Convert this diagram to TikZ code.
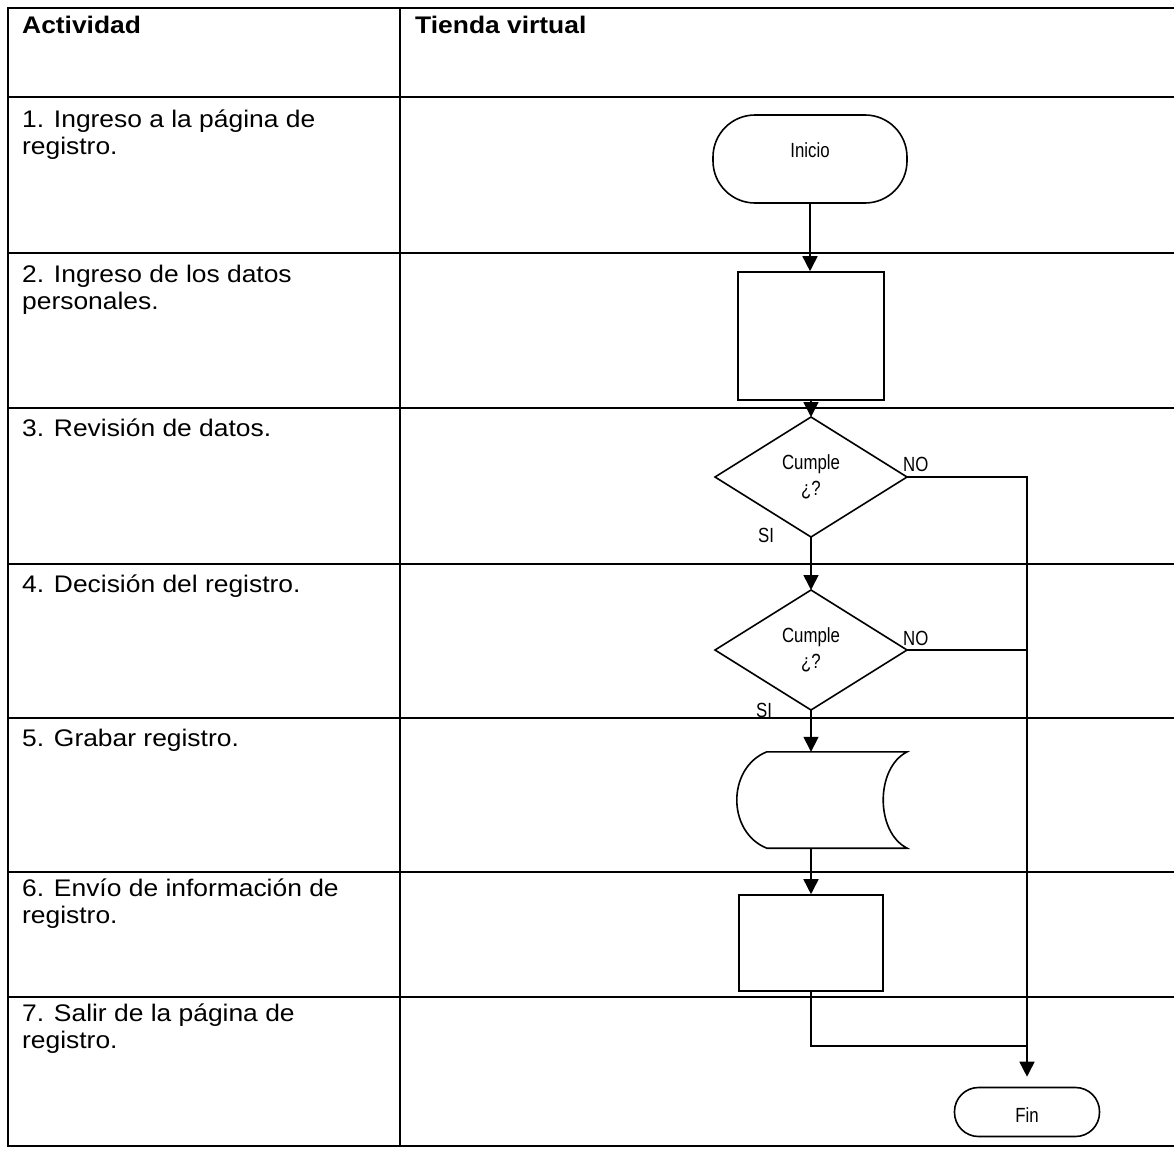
\documentclass[tikz,border=0pt]{standalone}
\usepackage{fontspec}
\setmainfont[FakeStretch=1.1]{Liberation Sans}
\newfontfamily\flowfont[FakeStretch=0.82]{Liberation Sans}
\usetikzlibrary{arrows.meta,shapes.geometric,calc}

\newcommand{\celltext}[1]{\begin{tabular}[t]{@{}l@{}}#1\end{tabular}}

\begin{document}
\begin{tikzpicture}[x=1pt,y=-1pt,
  grid/.style={line width=2.3pt, line cap=rect},
  cell/.style={anchor=base west, inner sep=0pt, font=\fontsize{24}{27.5}\selectfont},
  head/.style={cell, font=\fontsize{24}{27.5}\selectfont\bfseries},
  flow/.style={line width=1.6pt},
  arr/.style={flow, -{Triangle[length=15pt,width=15pt]}},
  lbl/.style={inner sep=0pt, anchor=base west, font=\flowfont\fontsize{20.5}{25}\selectfont},
  term/.style={draw, flow, rounded corners=#1, inner sep=0pt,
    font=\flowfont\fontsize{20.5}{25}\selectfont},
  procbox/.style={draw, flow, inner sep=0pt},
  decision/.style={draw, flow, diamond, inner sep=0pt, outer sep=0pt,
    minimum width=192pt, minimum height=120pt, align=center,
    font=\flowfont\fontsize{20.5}{25.5}\selectfont}
]
\useasboundingbox (0,0) rectangle (1174,1148);

% table rules
\draw[grid] (8,8) -- (1174,8);
\foreach \yy in {97,253,408,564,718,872,997} \draw[grid] (8,\yy) -- (1174,\yy);
\draw[grid] (8,1146) -- (1174,1146);
\draw[grid] (8,8) -- (8,1146);
\draw[grid] (400,8) -- (400,1146);

% column headers
\node[head] (hAct) at (22,34) {Actividad};
\node[head] (hTienda) at (415,34) {Tienda virtual};

% activity column
\node[cell] (a1) at (22,127) {\celltext{1. Ingreso a la página de\\registro.}};
\node[cell] (a2) at (22,282) {\celltext{2. Ingreso de los datos\\personales.}};
\node[cell] (a3) at (22,436) {3. Revisión de datos.};
\node[cell] (a4) at (22,592) {4. Decisión del registro.};
\node[cell] (a5) at (22,746) {5. Grabar registro.};
\node[cell] (a6) at (22,896) {\celltext{6. Envío de información de\\registro.}};
\node[cell] (a7) at (22,1021) {\celltext{7. Salir de la página de\\registro.}};

% flowchart shapes
\node[term=42pt, minimum width=194pt, minimum height=88pt] (ini) at (810,159)
  {\raisebox{2pt}[0pt][0pt]{Inicio}};
\node[procbox, minimum width=146pt, minimum height=128pt] (b2) at (811,336) {};
\node[decision] (d1) at (811,477) {Cumple\\¿?};
\node[decision] (d2) at (811,650) {Cumple\\¿?};
\node[inner sep=0pt, minimum width=169pt, minimum height=96pt] (st) at (822.5,800) {};
\draw[flow] ($(st.north west)+(29,0)$) coordinate (stA) -- (st.north east)
  .. controls ($(st.north east)+(-32,16)$) and ($(st.south east)+(-32,-16)$) .. (st.south east)
  -- ($(st.south west)+(29,0)$) coordinate (stB)
  .. controls ($(stB)+(-40,-16)$) and ($(stA)+(-40,16)$) .. (stA);
\node[procbox, minimum width=144pt, minimum height=96pt] (b6) at (811,943) {};
\node[term=24pt, minimum width=145pt, minimum height=49pt] (fin) at (1027,1112)
  {\raisebox{-10pt}[0pt][0pt]{Fin}};

% junction point on the return line
\coordinate (j2) at (1027,1046);

% connectors
\draw[arr] (ini) -- (ini |- b2.north);
\draw[arr] (b2) -- (d1.north);
\draw[arr] (d1.south) -- (d2.north);
\draw[arr] (d2.south) -- (d2.south |- st.north);
\draw[arr] (d2.south |- st.south) -- (b6.north);
\draw[arr, shorten >=10pt] (d1.east) -| (fin.north);
\draw[flow] (d2.east) -- (d2.east -| fin);
\draw[flow] (b6.south) |- (j2);

% branch labels
\node[lbl] (no1) at (903,471) {NO};
\node[lbl] (si1) at (758,542) {SI};
\node[lbl] (no2) at (903,645) {NO};
\node[lbl] (si2) at (756,717) {SI};
\end{tikzpicture}
\end{document}
